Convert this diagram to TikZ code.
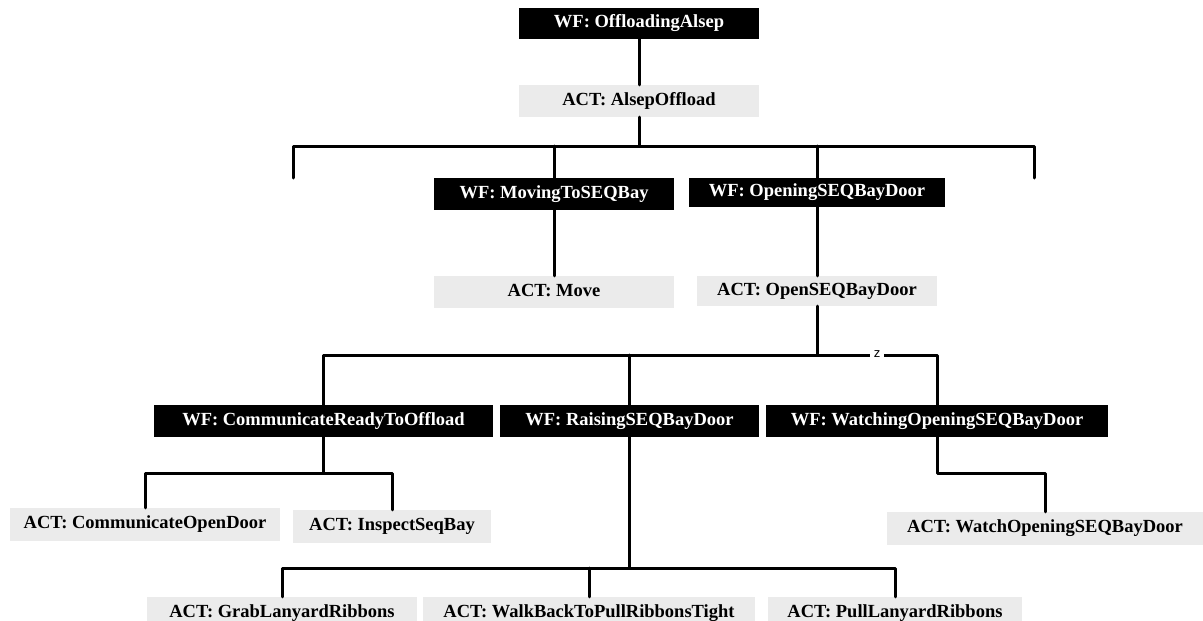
\documentclass[tikz,border=0pt]{standalone}
\usepackage{fontspec}
\setmainfont{Liberation Serif}[BoldFont={Liberation Serif Bold}]
\newfontfamily\labelfont{Liberation Serif}[UprightFont={* Bold}]
\setsansfont{Liberation Sans}
\begin{document}
\begin{tikzpicture}[x=1pt,y=-1pt,
  box/.style={inner sep=0pt,minimum height=32pt,font=\labelfont\fontsize{18.5}{20}\selectfont,text height=12.5pt,text depth=4pt},
  wf/.style={box,fill=black,text=white},
  act/.style={box,fill=black!8,text=black},
  wire/.style={line width=3pt,line join=round,line cap=round}]
\useasboundingbox (0,0) rectangle (1203,621);

% workflow (black) and activity (grey) frames
\node[wf,minimum width=240pt,minimum height=31pt] (wf0) at (639,23.5) {WF: OffloadingAlsep};
\node[act,minimum width=240pt] (act0) at (639,101) {ACT: AlsepOffload};
\node[wf,minimum width=240pt] (wf1) at (554,194) {WF: MovingToSEQBay};
\node[act,minimum width=240pt] (act1) at (554,292) {ACT: Move};
\node[wf,minimum width=256pt,minimum height=29pt] (wf2) at (817,192.5) {WF: OpeningSEQBayDoor};
\node[act,minimum width=240pt,minimum height=30pt] (act2) at (817,291) {ACT: OpenSEQBayDoor};
\node[wf,minimum width=339pt] (wf3) at (323.5,421) {WF: CommunicateReadyToOffload};
\node[wf,minimum width=259pt] (wf4) at (629.5,421) {WF: RaisingSEQBayDoor};
\node[wf,minimum width=342pt] (wf5) at (937,421) {WF: WatchingOpeningSEQBayDoor};
\node[act,minimum width=270pt,minimum height=33pt] (act3) at (145,524.5) {ACT: CommunicateOpenDoor};
\node[act,minimum width=198pt,minimum height=33pt] (act4) at (392,526.5) {ACT: InspectSeqBay};
\node[act,minimum width=316pt,minimum height=33pt] (act5) at (1045,528.5) {ACT: WatchOpeningSEQBayDoor};
\node[act,minimum width=270pt] (act6) at (282,613) {ACT: GrabLanyardRibbons};
\node[act,minimum width=332pt] (act7) at (589,613) {ACT: WalkBackToPullRibbonsTight};
\node[act,minimum width=254pt] (act8) at (895,613) {ACT: PullLanyardRibbons};

% bus levels and free branch ends
\coordinate (b1) at (0,146);
\coordinate (b2) at (0,355);
\coordinate (b3) at (0,473);
\coordinate (b4) at (0,568);
\coordinate (lend) at (293,178);
\coordinate (rend) at (1034,178);

% connectors
\draw[wire] (wf0.south) -- (act0.north);
\draw[wire] (act0.south) -- (act0.south |- b1);
\draw[wire] (lend) |- (rend |- b1) -- (rend);
\draw[wire] (wf1.north |- b1) -- (wf1.north);
\draw[wire] (wf2.north |- b1) -- (wf2.north);
\draw[wire] (wf1.south) -- (act1.north);
\draw[wire] (wf2.south) -- (act2.north);

\draw[wire] (act2.south) -- (act2.south |- b2);
\draw[wire] (wf3.north) |- (wf5.north |- b2) -- (wf5.north);
\draw[wire] (wf4.north |- b2) -- (wf4.north);
\node[fill=white,inner xsep=4pt,inner ysep=1pt,font=\sffamily\fontsize{13}{13}\selectfont] (zlab) at (877,354) {z};

\draw[wire] (wf3.south) -- (wf3.south |- b3);
\draw[wire] (act3.north) |- (act4.north |- b3) -- (act4.north);

\draw[wire] (wf5.south) |- (act5.north |- b3) -- (act5.north);

\draw[wire] (wf4.south) -- (wf4.south |- b4);
\draw[wire] (act6.north) |- (act8.north |- b4) -- (act8.north);
\draw[wire] (act7.north |- b4) -- (act7.north);
\end{tikzpicture}
\end{document}
